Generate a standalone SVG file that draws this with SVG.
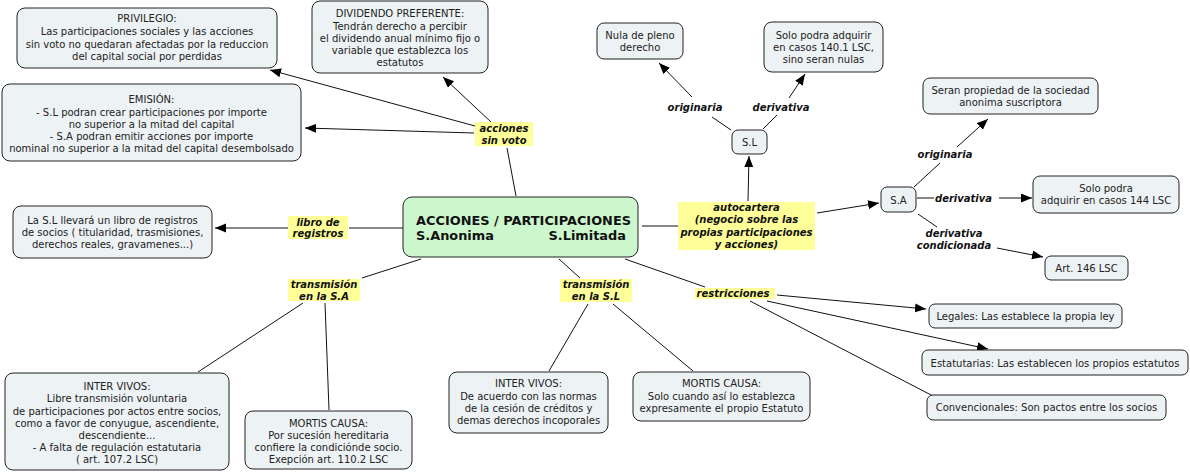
<svg xmlns="http://www.w3.org/2000/svg" width="1190" height="475" viewBox="0 0 1190 475">
<style>
.bg{fill:#ffffff}
.box{fill:#edf2f4;stroke:#222;stroke-width:1}
.main{fill:#ccf7cc;stroke:#222;stroke-width:1}
.lp{fill:#ffff99}
.t{font-family:"DejaVu Sans","Verdana",sans-serif;font-size:10px;fill:#222;text-anchor:middle}
.l{font-family:"DejaVu Sans","Verdana",sans-serif;font-size:10px;font-weight:bold;font-style:italic;fill:#111;text-anchor:middle}
.m{font-family:"DejaVu Sans","Verdana",sans-serif;font-size:12.9px;font-weight:bold;fill:#111}
.c{fill:none;stroke:#111;stroke-width:1}
</style>
<defs>
<marker id="ah" markerUnits="userSpaceOnUse" markerWidth="12" markerHeight="10" refX="11" refY="4.5" orient="auto">
<path d="M0,0 L11,4.5 L0,9 z" fill="#000"/>
</marker>
</defs>
<rect class="bg" x="0" y="0" width="1190" height="475"/>

<g id="connectors">
<line class="c" x1="516" y1="196" x2="507" y2="148"/>
<line class="c" x1="475" y1="126" x2="270" y2="70" marker-end="url(#ah)"/>
<line class="c" x1="474" y1="133" x2="305" y2="128" marker-end="url(#ah)"/>
<line class="c" x1="491" y1="122" x2="443" y2="77" marker-end="url(#ah)"/>
<line class="c" x1="403" y1="228" x2="349" y2="228"/>
<line class="c" x1="288" y1="228" x2="215" y2="228" marker-end="url(#ah)"/>
<line class="c" x1="421" y1="259" x2="362" y2="278"/>
<line class="c" x1="303" y1="303" x2="198" y2="372"/>
<line class="c" x1="325" y1="303" x2="329" y2="410"/>
<line class="c" x1="559" y1="259" x2="580" y2="278"/>
<line class="c" x1="588" y1="304" x2="549" y2="371"/>
<line class="c" x1="613" y1="304" x2="693" y2="371"/>
<line class="c" x1="625" y1="259" x2="705" y2="287"/>
<line class="c" x1="777" y1="295" x2="926" y2="309" marker-end="url(#ah)"/>
<line class="c" x1="767" y1="301" x2="988" y2="349" marker-end="url(#ah)"/>
<line class="c" x1="750" y1="301" x2="933" y2="396"/>
<line class="c" x1="642" y1="226" x2="678" y2="226"/>
<line class="c" x1="748" y1="201" x2="749" y2="156" marker-end="url(#ah)"/>
<line class="c" x1="817" y1="213" x2="879" y2="203" marker-end="url(#ah)"/>
<line class="c" x1="731" y1="130" x2="712" y2="117"/>
<line class="c" x1="692" y1="97" x2="659" y2="63" marker-end="url(#ah)"/>
<line class="c" x1="763" y1="129" x2="777" y2="115"/>
<line class="c" x1="789" y1="98" x2="805" y2="74" marker-end="url(#ah)"/>
<line class="c" x1="914" y1="187" x2="940" y2="163"/>
<line class="c" x1="957" y1="147" x2="988" y2="119" marker-end="url(#ah)"/>
<line class="c" x1="917" y1="198" x2="934" y2="198"/>
<line class="c" x1="999" y1="198" x2="1032" y2="198" marker-end="url(#ah)"/>
<line class="c" x1="918" y1="214" x2="937" y2="227"/>
<line class="c" x1="997" y1="248" x2="1043" y2="257" marker-end="url(#ah)"/>
</g>

<g id="n-privilegio">
<rect class="box" x="17" y="8" width="260" height="60" rx="8"/>
<text class="t" x="147"><tspan x="147" y="22">PRIVILEGIO:</tspan><tspan x="147" y="35">Las participaciones sociales y las acciones</tspan><tspan x="147" y="47.5">sin voto no quedaran afectadas por la reduccion</tspan><tspan x="147" y="60">del capital social por perdidas</tspan></text>
</g>
<g id="n-emision">
<rect class="box" x="2" y="84" width="299" height="77" rx="8"/>
<text class="t"><tspan x="151.5" y="103">EMISIÓN:</tspan><tspan x="151.5" y="116">- S.L podran crear participaciones por importe</tspan><tspan x="151.5" y="128">no superior a la mitad del capital</tspan><tspan x="151.5" y="140">- S.A podran emitir acciones por importe</tspan><tspan x="151.5" y="152">nominal no superior a la mitad del capital desembolsado</tspan></text>
</g>
<g id="n-dividendo">
<rect class="box" x="312" y="1" width="176" height="72" rx="8"/>
<text class="t"><tspan x="400" y="17">DIVIDENDO PREFERENTE:</tspan><tspan x="400" y="30">Tendrán derecho a percibir</tspan><tspan x="400" y="42">el dividendo anual mínimo fijo o</tspan><tspan x="400" y="54">variable que establezca los</tspan><tspan x="400" y="66">estatutos</tspan></text>
</g>
<g id="n-nula">
<rect class="box" x="597" y="23" width="86" height="36" rx="7"/>
<text class="t"><tspan x="640" y="39">Nula de pleno</tspan><tspan x="640" y="51">derecho</tspan></text>
</g>
<g id="n-solo1401">
<rect class="box" x="764" y="22" width="119" height="50" rx="8"/>
<text class="t"><tspan x="823.5" y="39">Solo podra adquirir</tspan><tspan x="823.5" y="51">en casos 140.1 LSC,</tspan><tspan x="823.5" y="63">sino seran nulas</tspan></text>
</g>
<g id="n-sl">
<rect class="box" x="732" y="130" width="35" height="24" rx="6"/>
<text class="t" x="749.5" y="146">S.L</text>
</g>
<g id="n-seran">
<rect class="box" x="923" y="78" width="175" height="36" rx="7"/>
<text class="t"><tspan x="1010.5" y="94">Seran propiedad de la sociedad</tspan><tspan x="1010.5" y="106">anonima suscriptora</tspan></text>
</g>
<g id="n-sa">
<rect class="box" x="881" y="187" width="35" height="25" rx="6"/>
<text class="t" x="898.5" y="204">S.A</text>
</g>
<g id="n-solo144">
<rect class="box" x="1033" y="176" width="146" height="37" rx="7"/>
<text class="t"><tspan x="1106" y="192">Solo podra</tspan><tspan x="1106" y="204">adquirir en casos 144 LSC</tspan></text>
</g>
<g id="n-art146">
<rect class="box" x="1045" y="256" width="83" height="24" rx="6"/>
<text class="t" x="1086.5" y="272">Art. 146 LSC</text>
</g>
<g id="n-central">
<rect class="main" x="403" y="197" width="235" height="60" rx="9"/>
<text class="m"><tspan x="416" y="225">ACCIONES / PARTICIPACIONES</tspan><tspan x="416" y="239.5">S.Anonima</tspan><tspan x="626" y="239.5" text-anchor="end">S.Limitada</tspan></text>
</g>
<g id="n-libro">
<rect class="box" x="13" y="206" width="199" height="52" rx="8"/>
<text class="t"><tspan x="112.5" y="224">La S.L llevará un libro de registros</tspan><tspan x="112.5" y="236">de socios ( titularidad, trasmisiones,</tspan><tspan x="112.5" y="248">derechos reales, gravamenes...)</tspan></text>
</g>
<g id="n-intervivos-sa">
<rect class="box" x="5" y="373" width="224" height="97" rx="8"/>
<text class="t"><tspan x="117" y="390">INTER VIVOS:</tspan><tspan x="117" y="402">Libre transmisión voluntaria</tspan><tspan x="117" y="414.5">de participaciones por actos entre socios,</tspan><tspan x="117" y="427">como a favor de conyugue, ascendiente,</tspan><tspan x="117" y="439">descendiente...</tspan><tspan x="117" y="451">- A falta de regulación estatutaria</tspan><tspan x="117" y="463">( art. 107.2 LSC)</tspan></text>
</g>
<g id="n-mortis-sa">
<rect class="box" x="245" y="411" width="167" height="58" rx="8"/>
<text class="t"><tspan x="328.5" y="427">MORTIS CAUSA:</tspan><tspan x="328.5" y="439">Por sucesión hereditaria</tspan><tspan x="328.5" y="451">confiere la condiciónde socio.</tspan><tspan x="328.5" y="463">Exepción art. 110.2 LSC</tspan></text>
</g>
<g id="n-intervivos-sl">
<rect class="box" x="449" y="372" width="159" height="61" rx="8"/>
<text class="t"><tspan x="528.5" y="387">INTER VIVOS:</tspan><tspan x="528.5" y="400">De acuerdo con las normas</tspan><tspan x="528.5" y="412">de la cesión de créditos y</tspan><tspan x="528.5" y="424">demas derechos incoporales</tspan></text>
</g>
<g id="n-mortis-sl">
<rect class="box" x="633" y="372" width="177" height="49" rx="8"/>
<text class="t"><tspan x="721.5" y="387">MORTIS CAUSA:</tspan><tspan x="721.5" y="400">Solo cuando así lo establezca</tspan><tspan x="721.5" y="412">expresamente el propio Estatuto</tspan></text>
</g>
<g id="n-legales">
<rect class="box" x="929" y="304" width="193" height="24" rx="6"/>
<text class="t" x="1025.5" y="320">Legales: Las establece la propia ley</text>
</g>
<g id="n-estatutarias">
<rect class="box" x="922" y="350" width="266" height="25" rx="6"/>
<text class="t" x="1055" y="367">Estatutarias: Las establecen los propios estatutos</text>
</g>
<g id="n-convencionales">
<rect class="box" x="927" y="395" width="239" height="25" rx="6"/>
<text class="t" x="1046.5" y="411">Convencionales: Son pactos entre los socios</text>
</g>

<g id="lp-acciones">
<rect class="lp" x="475" y="122" width="58" height="24"/>
<text class="l"><tspan x="504" y="132">acciones</tspan><tspan x="504" y="144">sin voto</tspan></text>
</g>
<g id="lp-libro">
<rect class="lp" x="288" y="216" width="60" height="23"/>
<text class="l"><tspan x="318" y="226">libro de</tspan><tspan x="318" y="237">registros</tspan></text>
</g>
<g id="lp-trans-sa">
<rect class="lp" x="288" y="279" width="72" height="22"/>
<text class="l"><tspan x="324" y="288">transmisión</tspan><tspan x="324" y="300">en la S.A</tspan></text>
</g>
<g id="lp-trans-sl">
<rect class="lp" x="560" y="279" width="72" height="23"/>
<text class="l"><tspan x="596" y="288">transmisión</tspan><tspan x="596" y="300">en la S.L</tspan></text>
</g>
<g id="lp-restricciones">
<rect class="lp" x="695" y="288" width="80" height="11"/>
<text class="l" x="733" y="297">restricciones</text>
</g>
<g id="lp-autocartera">
<rect class="lp" x="678" y="202" width="137" height="48"/>
<text class="l"><tspan x="746.5" y="211">autocartera</tspan><tspan x="746.5" y="223">(negocio sobre las</tspan><tspan x="746.5" y="235.5">propias participaciones</tspan><tspan x="746.5" y="248">y acciones)</tspan></text>
</g>
<g id="lp-orig-sl">
<text class="l" x="695" y="111">originaria</text>
</g>
<g id="lp-deriv-sl">
<text class="l" x="781" y="111">derivativa</text>
</g>
<g id="lp-orig-sa">
<text class="l" x="945" y="158">originaria</text>
</g>
<g id="lp-deriv-sa">
<text class="l" x="963.5" y="202">derivativa</text>
</g>
<g id="lp-deriv-cond">
<text class="l"><tspan x="954" y="237">derivativa</tspan><tspan x="954" y="249">condicionada</tspan></text>
</g>
</svg>
